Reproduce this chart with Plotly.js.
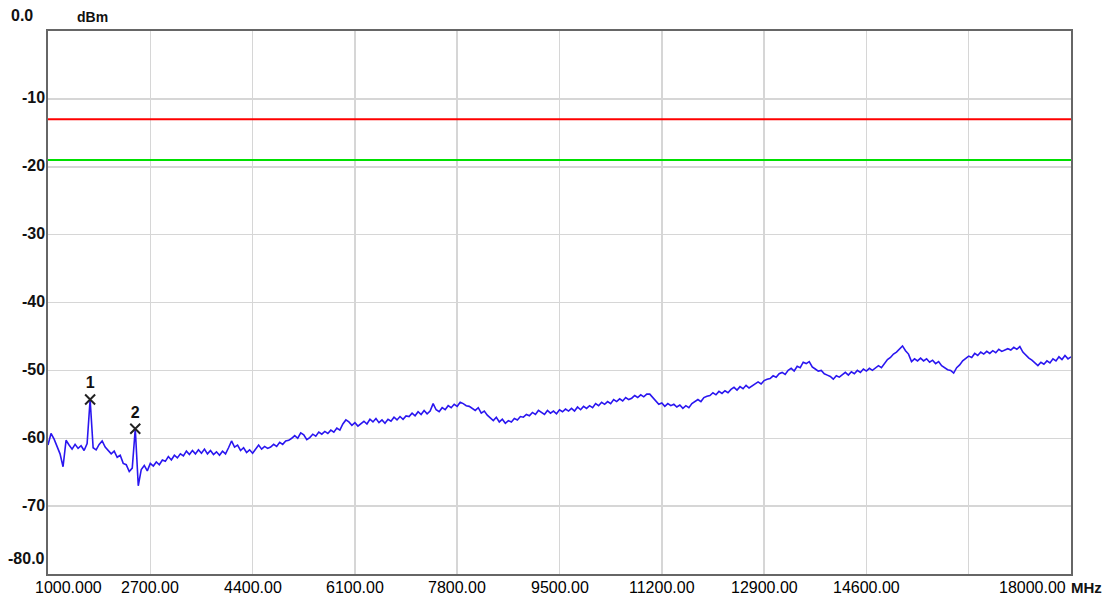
<!DOCTYPE html>
<html>
<head>
<meta charset="utf-8">
<script src="https://cdn.plot.ly/plotly-3.0.1.min.js"></script>
<style>
html,body{margin:0;padding:0;background:#fff;}
#chart{width:1111px;height:601px;}
</style>
</head>
<body>
<div id="chart"></div>
<script>
// Frequency grid: 1000 MHz to 18000 MHz, 50 MHz step
var startFreq = 1000;
var stepFreq = 50;

// Measured trace level (dBm), one value per 50 MHz, rows of 1000 MHz
var traceLevel = [
  -61.0, -59.3, -60.1, -61.2, -62.3, -64.2, -60.3, -61.0, -61.6, -60.9, -61.5, -61.1, -61.8, -60.8, -54.3, -61.4, -61.7, -60.9, -60.4, -61.3,
  -61.8, -62.3, -61.9, -62.8, -62.5, -63.7, -63.9, -64.9, -64.4, -58.6, -67.0, -64.6, -64.0, -64.8, -63.7, -64.1, -63.5, -63.9, -63.2, -63.4,
  -62.7, -63.2, -62.5, -62.9, -62.3, -62.6, -61.9, -62.4, -61.8, -62.3, -61.7, -62.2, -61.6, -62.3, -61.8, -62.4, -62.0, -62.5, -61.9, -62.3,
  -61.4, -60.4, -61.3, -61.0, -61.8, -61.4, -62.1, -61.7, -62.2, -61.6, -61.0, -61.6, -61.2, -61.5, -61.3, -60.9, -61.2, -60.6, -60.9, -60.4,
  -60.3, -60.0, -59.6, -60.0, -59.2, -59.5, -60.2, -59.9, -59.4, -59.7, -59.1, -59.4, -59.0, -59.3, -58.8, -59.1, -58.5, -58.8, -57.9, -57.3,
  -57.6, -58.1, -57.7, -58.2, -57.8, -57.5, -57.9, -57.2, -57.6, -57.1, -57.7, -57.3, -57.8, -57.2, -57.5, -56.9, -57.3, -56.8, -57.2, -56.7,
  -56.8, -56.3, -56.7, -56.1, -56.5, -55.9, -56.4, -56.0, -54.9, -55.8, -56.1, -55.5, -55.8, -55.2, -55.5, -55.0, -55.3, -54.7, -54.9, -55.2,
  -55.3, -55.6, -55.9, -55.5, -56.3, -56.0, -56.6, -57.0, -57.4, -56.9, -57.6, -57.2, -57.8, -57.4, -57.6, -57.1, -57.3, -56.8, -56.9, -56.5,
  -56.7, -56.2, -56.5, -55.9, -56.2, -56.5, -55.9, -56.3, -56.0, -56.4, -55.8, -56.1, -55.7, -56.0, -55.6, -56.0, -55.4, -55.8, -55.3, -55.6,
  -55.2, -55.5, -54.9, -55.2, -54.7, -55.0, -54.6, -54.9, -54.3, -54.6, -54.2, -54.5, -54.0, -54.3, -54.1, -53.7, -54.0, -53.6, -53.9, -53.5,
  -53.5, -54.0, -54.6, -55.0, -54.8, -55.3, -54.9, -55.2, -55.0, -55.4, -55.1, -55.6, -55.2, -55.5, -54.9, -54.6, -54.3, -54.6, -54.0, -53.8,
  -53.7, -53.3, -53.6, -53.1, -53.4, -53.0, -53.3, -52.8, -52.5, -52.9, -52.4, -52.7, -52.2, -52.6, -52.3, -52.0, -51.7, -52.0, -51.5, -51.3,
  -51.2, -50.8, -51.0, -50.5, -50.3, -50.6, -50.0, -49.7, -50.1, -49.4, -49.6, -48.8, -49.0, -48.7, -49.5, -49.8, -50.1, -50.0, -50.5, -50.7,
  -50.9, -51.3, -50.8, -51.0, -50.6, -50.3, -50.7, -50.2, -50.5, -50.0, -50.3, -49.8, -50.1, -49.7, -50.0, -49.6, -49.3, -49.6, -48.9, -48.4,
  -48.1, -47.6, -47.3, -46.8, -46.4, -47.1, -47.6, -48.7, -48.3, -48.6, -48.2, -48.6, -48.3, -48.8, -48.5, -49.0, -48.7, -49.3, -49.6, -49.9,
  -50.0, -50.4, -49.6, -49.2, -48.6, -48.2, -47.9, -48.1, -47.5, -47.8, -47.3, -47.6, -47.2, -47.5, -47.1, -47.4, -46.9, -47.2, -47.0, -46.8,
  -47.0, -46.6, -46.9, -46.5, -47.3, -47.8, -48.2, -48.5, -48.9, -49.3, -48.8, -49.1, -48.6, -48.9, -48.3, -48.6, -48.0, -48.4, -47.8, -48.3,
  -48.0
];

// Limit lines (dBm)
var limitRed = -13;
var limitGreen = -19;

// Markers
var markerFreq = [1700, 2450];
var markerLevel = [-54.3, -58.6];
var markerLabel = ["1", "2"];

// Axis tick labels
var xTickVals = [1000, 2700, 4400, 6100, 7800, 9500, 11200, 12900, 14600, 18000];
var xTickText = ["1000.000", "2700.00", "4400.00", "6100.00", "7800.00", "9500.00", "11200.00", "12900.00", "14600.00", "18000.00"];
var yTickVals = [0, -10, -20, -30, -40, -50, -60, -70, -80];
var yTickText = ["0.0", "-10", "-20", "-30", "-40", "-50", "-60", "-70", "-80.0"];
var xUnit = "MHz";
var yUnit = "dBm";

var freq = traceLevel.map(function (v, i) { return startFreq + i * stepFreq; });
var fMin = startFreq, fMax = 18000;

var fam = "Liberation Sans, Arial, sans-serif";
var labelFont = {family: fam, size: 16, color: "#000"};

var traces = [
  {x: [fMin, fMax], y: [limitRed, limitRed], mode: "lines", line: {color: "#ff0000", width: 2}, hoverinfo: "skip"},
  {x: [fMin, fMax], y: [limitGreen, limitGreen], mode: "lines", line: {color: "#00e000", width: 2}, hoverinfo: "skip"},
  {x: freq, y: traceLevel, mode: "lines", line: {color: "#2a16f0", width: 1.6}},
  {x: markerFreq, y: markerLevel, mode: "markers+text", text: markerLabel.map(function (t) { return "<b>" + t + "</b>"; }),
   textposition: "top center",
   textfont: {family: fam, size: 16, color: "#111"},
   marker: {symbol: "x-thin-open", size: 10, color: "#222", line: {width: 2, color: "#222"}}}
];

var annotations = [];
xTickVals.forEach(function (v, i) {
  var a = {x: v, y: 0, xref: "x", yref: "paper", yanchor: "top", yshift: -3, text: xTickText[i],
           showarrow: false, font: labelFont, xanchor: "center"};
  if (i === 0) { a.xshift = 20; }
  if (i === xTickVals.length - 1) { a.xanchor = "right"; a.xshift = -3; }
  annotations.push(a);
});
annotations.push({x: fMax, y: 0, xref: "x", yref: "paper", yanchor: "top", yshift: -3, xanchor: "left", xshift: -2,
  text: "<b>" + xUnit + "</b>", showarrow: false, font: {family: fam, size: 15, color: "#111"}});
yTickVals.forEach(function (v, i) {
  var a = {x: 0, y: v, xref: "paper", yref: "y", xanchor: "right", yanchor: "middle", xshift: -1,
           text: "<b>" + yTickText[i] + "</b>", showarrow: false, font: {family: fam, size: 16, color: "#111"}};
  if (i === 0) { a.xanchor = "left"; a.xshift = -39; a.yshift = 16; }
  if (i === yTickVals.length - 1) { a.yshift = 16; }
  if (i !== 0 && i !== yTickVals.length - 1) { a.yshift = 1; }
  annotations.push(a);
});
annotations.push({x: 0, y: 0, xref: "paper", yref: "y", xanchor: "center", yanchor: "middle", xshift: 44, yshift: 14,
  text: "<b>" + yUnit + "</b>", showarrow: false, font: {family: fam, size: 14, color: "#111"}});

var layout = {
  width: 1111, height: 601,
  margin: {l: 48, r: 40, t: 31, b: 27, pad: 0},
  paper_bgcolor: "#ffffff", plot_bgcolor: "#ffffff",
  showlegend: false,
  xaxis: {range: [fMin, fMax], tick0: fMin, dtick: 1700, showgrid: true, gridcolor: "#d6d6d6", gridwidth: 1.5,
          zeroline: false, showticklabels: false, ticks: "", showline: true, mirror: true, linecolor: "#666", linewidth: 2},
  yaxis: {range: [-80, 0], dtick: 10, showgrid: true, gridcolor: "#d6d6d6", gridwidth: 1.5,
          zeroline: false, showticklabels: false, ticks: "", showline: true, mirror: true, linecolor: "#666", linewidth: 2},
  annotations: annotations
};

Plotly.newPlot("chart", traces, layout, {staticPlot: true, displayModeBar: false});
</script>
</body>
</html>
